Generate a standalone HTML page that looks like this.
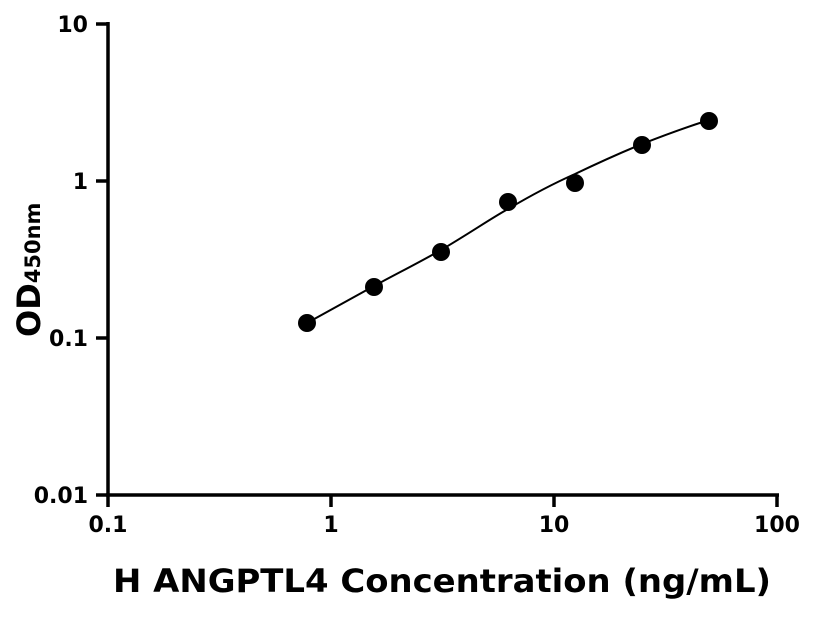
<!DOCTYPE html>
<html><head><style>body{margin:0;background:#fff}</style></head><body>
<svg width="816" height="612" xmlns="http://www.w3.org/2000/svg" font-family="DejaVu Sans, Liberation Sans, sans-serif" font-weight="bold">
<g stroke="#000" stroke-width="3.5" fill="none">
<line x1="108" y1="22" x2="108" y2="496"/>
<line x1="106" y1="495" x2="779" y2="495"/>
<line x1="96" y1="24" x2="108" y2="24"/>
<line x1="96" y1="181" x2="108" y2="181"/>
<line x1="96" y1="338" x2="108" y2="338"/>
<line x1="96" y1="495" x2="108" y2="495"/>
<line x1="108" y1="495" x2="108" y2="507"/>
<line x1="331" y1="495" x2="331" y2="507"/>
<line x1="554" y1="495" x2="554" y2="507"/>
<line x1="777" y1="495" x2="777" y2="507"/>
</g>
<path d="M307,323 C340,305 370,288 374,286 C400,272 420,262 441,250 C470,233 490,219 508,209 C530,196 550,185 575,174 C600,162 620,153 642,144 C670,133 690,126 709,120" stroke="#000" stroke-width="2" fill="none"/>
<g fill="#000">
<circle cx="307" cy="323" r="9"/>
<circle cx="374" cy="287" r="9"/>
<circle cx="441" cy="252" r="9"/>
<circle cx="508" cy="202" r="9"/>
<circle cx="575" cy="183" r="9"/>
<circle cx="642" cy="145" r="9"/>
<circle cx="709" cy="121" r="9"/>
</g>
<g font-size="22" text-anchor="end">
<text x="88" y="32">10</text>
<text x="88" y="189">1</text>
<text x="88" y="346">0.1</text>
<text x="88" y="503">0.01</text>
</g>
<g font-size="22" text-anchor="middle">
<text x="108" y="532">0.1</text>
<text x="331" y="532">1</text>
<text x="554" y="532">10</text>
<text x="777" y="532">100</text>
</g>
<text x="442" y="592" font-size="32" text-anchor="middle" textLength="658" lengthAdjust="spacingAndGlyphs">H ANGPTL4 Concentration (ng/mL)</text>
<text transform="translate(40,337) rotate(-90)" font-size="32">OD<tspan font-size="21" dy="0">450nm</tspan></text>
</svg>
</body></html>
